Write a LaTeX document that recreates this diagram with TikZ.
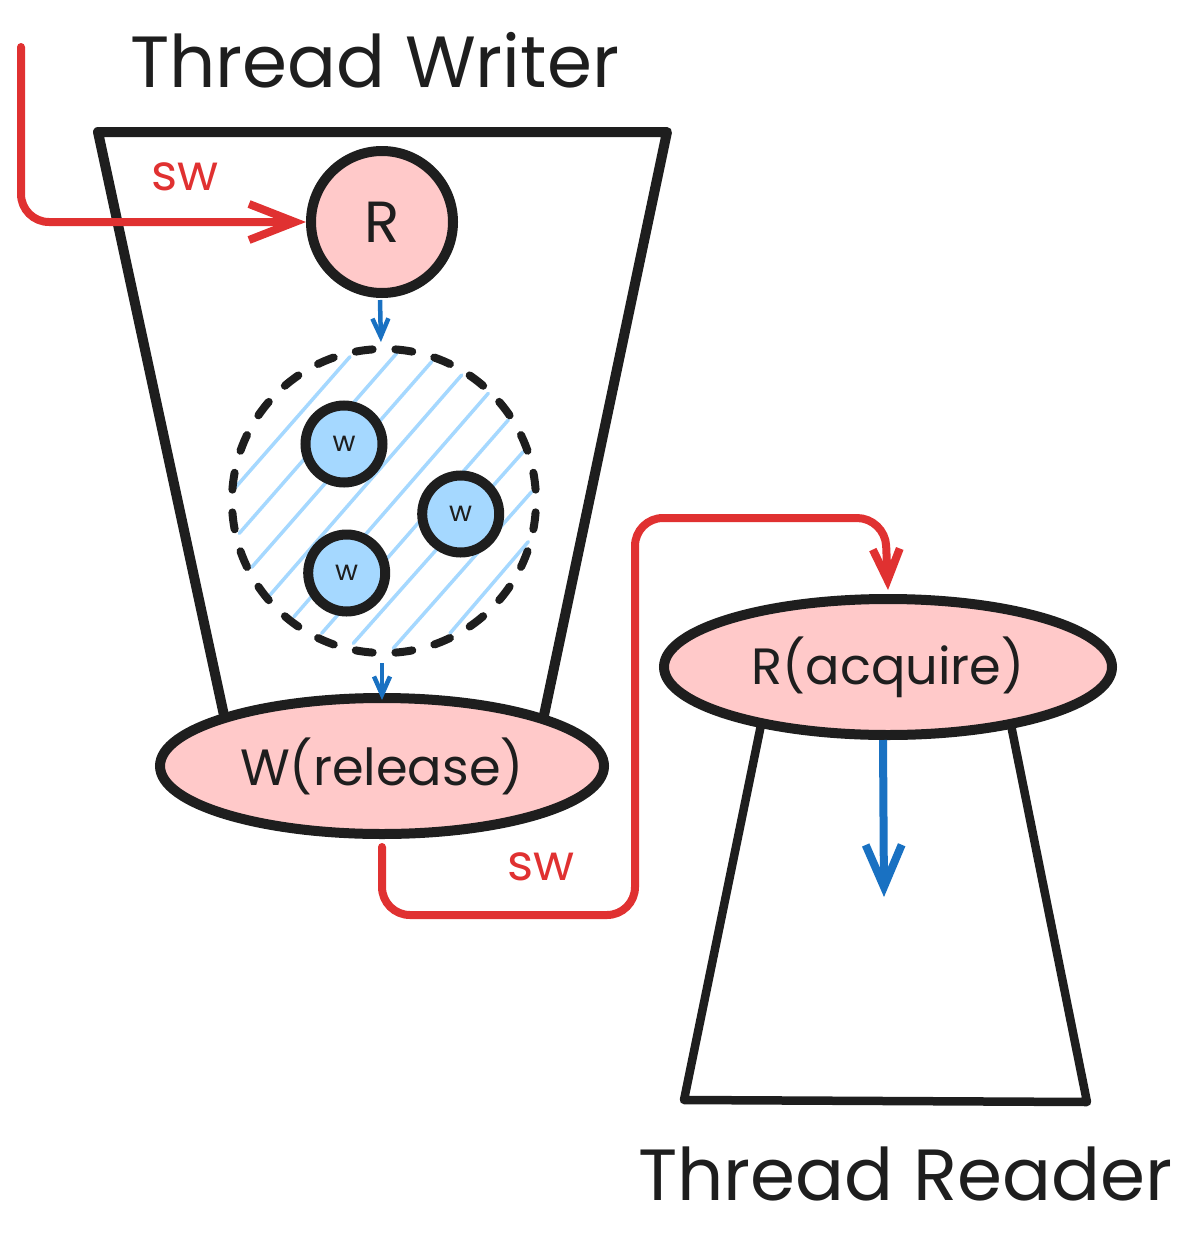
\documentclass[tikz,border=0pt]{standalone}
\usepackage{fontspec}
\setmainfont{Poppins}
\usetikzlibrary{shapes.geometric,arrows.meta}
\definecolor{ink}{HTML}{1E1E1E}
\definecolor{redl}{HTML}{E03131}
\definecolor{bluel}{HTML}{1971C2}
\definecolor{pinkf}{HTML}{FFC9C9}
\definecolor{bluef}{HTML}{A5D8FF}
\tikzset{
 wall/.style={draw=ink,line width=10pt,line cap=round,line join=round},
 thinwall/.style={draw=ink,line width=8.5pt,line cap=round,line join=round},
 redc/.style={draw=redl,line width=8pt,rounded corners=28pt,line cap=round},
 redhead/.style={-{Straight Barb[length=46pt,width=36pt,line width=8pt]}},
 redheadb/.style={-{Straight Barb[length=31pt,width=27pt,line width=8pt]}},
 bluesmall/.style={draw=bluel,line width=4.5pt,-{Straight Barb[length=18pt,width=16pt,line width=4.5pt]}},
 bluebig/.style={draw=bluel,line width=8pt,-{Straight Barb[length=42pt,width=36pt,line width=8pt]}},
 hatch/.style={draw=bluef,line width=3.5pt,line cap=round},
 big/.style={font=\fontsize{72.5}{73}\selectfont,text=ink,inner sep=0pt},
 sw/.style={font=\fontsize{50}{50}\selectfont,text=redl,inner sep=0pt},
 wn/.style={circle,draw=ink,line width=10pt,fill=bluef,minimum size=77pt,inner sep=0pt,font=\fontsize{28}{28}\selectfont,text=ink},
 ell/.style={ellipse,draw=ink,line width=10pt,fill=pinkf,inner sep=0pt,text=ink,font=\fontsize{51}{51}\selectfont},
}
\begin{document}
\begin{tikzpicture}[x=1pt,y=-1pt]
\useasboundingbox (0,0) rectangle (1185,1242);
% writer trapezoid
\coordinate (wbl) at (225,720);
\coordinate (wtl) at (98,132);
\coordinate (wtr) at (667,132);
\coordinate (wbr) at (543,720);
\draw[wall] (wbl) -- (wtl) -- (wtr) -- (wbr);
% reader trapezoid
\coordinate (rtl) at (762,720);
\coordinate (rbl) at (684,1100);
\coordinate (rbr) at (1087,1102);
\coordinate (rtr) at (1010,720);
\draw[thinwall] (rtl) -- (rbl) -- (rbr) -- (rtr);
% hatch
\draw[hatch] (231.7,491.7) -- (350,356.7);
\draw[hatch] (239.3,533.3) -- (396.7,353.3);
\draw[hatch] (251.7,567.3) -- (431.7,361.7);
\draw[hatch] (270,595) -- (461.7,375);
\draw[hatch] (294,616.7) -- (488.3,393.3);
\draw[hatch] (321.7,633.3) -- (508.3,420);
\draw[hatch] (353.3,643.3) -- (523.3,451.7);
\draw[hatch] (393.3,648.3) -- (531.7,491.7);
\draw[hatch] (450,633.3) -- (528.3,541.7);
\node[circle,draw=ink,line width=8pt,line cap=round,dash pattern=on 17pt off 22.8pt,dash phase=28.4pt,minimum size=304pt,inner sep=0pt] (group) at (384,501) {};
\node[wn] (w1) at (344,444) {w};
\node[wn] (w2) at (460.7,514) {w};
\node[wn] (w3) at (346.7,573) {w};
\node[circle,draw=ink,line width=10pt,fill=pinkf,minimum size=142pt,inner sep=0pt,font=\fontsize{58}{58}\selectfont,text=ink] (R) at (382,222) {R};
\node[ell,minimum width=444pt,minimum height=136pt] (wrel) at (382,766) {W(release)};
\node[ell,minimum width=448pt,minimum height=136pt] (racq) at (888,667) {R(acquire)};
\node[big,anchor=west] (tw) at (130,60) {Thread Writer};
\node[big,anchor=west] (tr) at (638,1174) {Thread Reader};
\node[sw] (sw1) at (185,177) {sw};
\node[sw] (sw2) at (541,867) {sw};
\coordinate (start) at (21,47);
\coordinate (bot) at (884,897);
% connectors
\draw[redc,redhead] (start) -- (21,222) -- (R.west);
\draw[redc,redheadb] ([yshift=-8pt]wrel.south) |- (635,915) -- (635,518) -- (885,518) -- ([yshift=4pt]racq.north);
\draw[bluesmall,shorten >=3pt] ([shift={(-2pt,-2pt)}]R.south) -- ([xshift=-3pt]group.north);
\draw[bluesmall,shorten <=6pt,shorten >=-7pt] ([xshift=-2pt]group.south) -- ([xshift=0pt]wrel.north);
\draw[bluebig] ([xshift=-5pt]racq.south) -- (bot);
\end{tikzpicture}
\end{document}
